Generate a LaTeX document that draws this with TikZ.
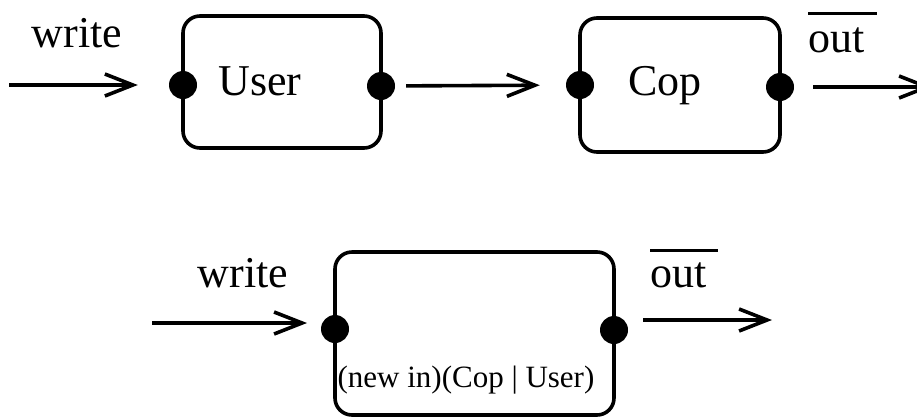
\documentclass[tikz,border=0pt]{standalone}
\usepackage{fontspec}
\setmainfont{Liberation Serif}
\usetikzlibrary{arrows.meta}
\newcommand\ovlbar[3]{\begingroup\setbox0\hbox{#1}\vbox{\hrule height 3.2pt width \dimexpr\wd0+#2\relax\vskip #3\box0}\endgroup}
\tikzset{
  proc/.style={draw,line width=3.6pt,rounded corners=17pt,inner sep=0pt},
  portdot/.style={circle,fill=black,inner sep=0pt,minimum size=28pt},
  flow/.style={line width=3.6pt,-{Straight Barb[length=28pt,width=22pt,line width=3.6pt]}},
  big/.style={font=\fontsize{44}{44}\selectfont,inner sep=0pt},
  tiny/.style={font=\fontsize{31}{31}\selectfont,inner sep=0pt},
}
\begin{document}
\begin{tikzpicture}[x=1pt,y=-1pt]
\useasboundingbox (0,0) rectangle (917,416);
% top row
\node[proc,minimum width=198pt,minimum height=132pt] (user) at (282,82) {};
\node[proc,minimum width=200pt,minimum height=134pt] (cop) at (680,85) {};
\node[big,anchor=base] (usert) at (260,95) {User};
\node[big,anchor=base] (copt) at (665,95) {Cop};
\node[portdot] (uin) at (183,85) {};
\node[portdot] (uout) at (381,86) {};
\node[portdot] (cin) at (580,85) {};
\node[portdot] (cout) at (780,87) {};
\coordinate (win) at (9,85);
\coordinate (oend) at (932,87);
\node[big,anchor=base] (write1) at (77,47) {write};
\node[big,anchor=base west] (out1) at (808,52) {\ovlbar{out}{13pt}{12pt}};
\draw[flow,shorten >=31pt] (win) -- (uin);
\draw[flow,shorten <=11pt,shorten >=26pt] (uout) -- (cin);
\draw[flow,shorten <=19pt] (cout) -- (oend);
% bottom row
\node[proc,minimum width=279pt,minimum height=163pt] (sys) at (474.5,333.5) {};
\node[tiny,anchor=base] (syst) at (466,387) {(new in)(Cop | User)};
\node[portdot] (sin) at (335,329) {};
\node[portdot] (sout) at (614,330) {};
\coordinate (win2) at (152,323);
\coordinate (oend2) at (772,320);
\node[big,anchor=base] (write2) at (243,287) {write};
\node[big,anchor=base west] (out2) at (650,287) {\ovlbar{out}{12pt}{10pt}};
\draw[flow,shorten >=28pt] (win2) -- (sin |- win2);
\draw[flow,shorten <=29pt] (sout |- oend2) -- (oend2);
\end{tikzpicture}
\end{document}
